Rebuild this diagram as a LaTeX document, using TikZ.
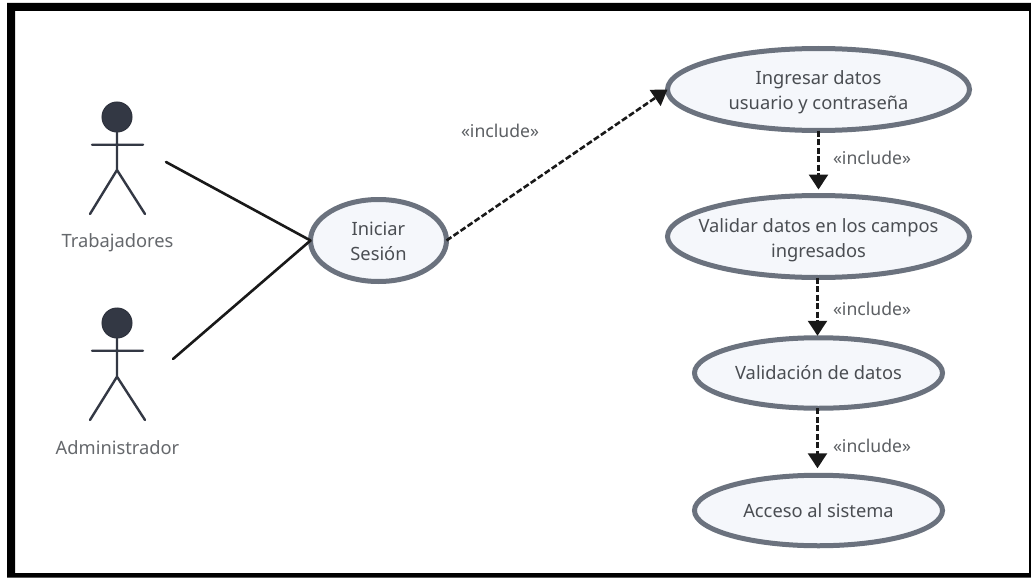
\documentclass[tikz,border=0pt]{standalone}
\usepackage{fontspec}
\setmainfont{Noto Sans}
\usetikzlibrary{shapes.geometric,arrows.meta}
\definecolor{ucfill}{HTML}{F5F7FB}
\definecolor{ucline}{HTML}{6B727E}
\definecolor{actorc}{HTML}{333844}
\definecolor{txtc}{HTML}{4A4D52}
\tikzset{
  usecase/.style={ellipse,draw=ucline,fill=ucfill,line width=5pt,inner sep=0pt,outer sep=0pt,align=center,text=txtc,font=\fontsize{18.3}{25}\selectfont},
  actorlabel/.style={text=txtc!85,inner sep=0pt,font=\fontsize{18.3}{22}\selectfont},
  inclabel/.style={text=txtc!90,inner sep=0pt,font=\fontsize{17.6}{22}\selectfont},
  actorline/.style={draw=actorc,line width=2.4pt,line cap=round},
  head/.style={circle,draw=actorc!90!black,fill=actorc,line width=1pt,minimum size=30pt,inner sep=0pt,outer sep=0pt},
  assoc/.style={draw=black!90,line width=2.6pt,line cap=round},
  incl/.style={draw=black!90,line width=2.6pt,dash pattern=on 6pt off 2.5pt,-{Triangle[width=19pt,length=15pt,sep=0pt]}}
}
\begin{document}
\begin{tikzpicture}[x=1pt,y=-1pt]
\useasboundingbox (0,0) rectangle (1031,578);
\fill[white] (0,0) rectangle (1031,578);
\fill[black,even odd rule] (7,3) rectangle (1031,577.5) (15,11) rectangle (1029,573);
% actors
\node[head] (h1) at (117,117) {};
\coordinate (n1) at (117,170);
\coordinate (al1) at (92,144.7);
\coordinate (ar1) at (143,144.7);
\coordinate (ll1) at (90,214);
\coordinate (lr1) at (145,214);
\draw[actorline] (h1) -- (n1) (al1) -- (ar1) (ll1) -- (n1) -- (lr1);
\node[actorlabel] (t1) at (117.5,242.5) {Trabajadores};
\node[head] (h2) at (117,323) {};
\coordinate (n2) at (117,376.7);
\coordinate (al2) at (92,350.7);
\coordinate (ar2) at (143,350.7);
\coordinate (ll2) at (90,420);
\coordinate (lr2) at (145,420);
\draw[actorline] (h2) -- (n2) (al2) -- (ar2) (ll2) -- (n2) -- (lr2);
\node[actorlabel] (t2) at (117.5,448) {Administrador};
% use cases
\node[usecase,minimum width=136pt,minimum height=82pt] (ini) at (378.5,240.5) {\rule{0pt}{15.7pt}Iniciar\\Sesión};
\node[usecase,minimum width=302pt,minimum height=82pt] (ing) at (818.5,89.5) {\rule{0pt}{20pt}Ingresar datos\\\makebox[100pt]{usuario y contraseña}};
\node[usecase,minimum width=302pt,minimum height=82pt] (val) at (818.5,236.5) {\rule{0pt}{22pt}\makebox[100pt]{Validar datos en los campos}\\ingresados};
\node[usecase,minimum width=248pt,minimum height=70.5pt] (vad) at (818.5,373) {Validación de datos};
\node[usecase,minimum width=248pt,minimum height=70.5pt] (acc) at (818.5,510.5) {Acceso al sistema};
% associations
\coordinate (c1) at (166,162);
\coordinate (c2) at (173,359);
\draw[assoc] (c1) -- (ini.west);
\draw[assoc] (c2) -- (ini.west);
% includes
\draw[incl] (ini.east) -- (ing.west);
\draw[incl,shorten >=6pt] (ing.south) -- (val.north);
\draw[incl,shorten >=2pt] ([xshift=-1pt]val.south) -- ([xshift=-1pt]vad.north);
\draw[incl,shorten >=7pt] ([xshift=-1pt]vad.south) -- ([xshift=-1pt]acc.north);
\node[inclabel] (l1) at (500,131) {«include»};
\node[inclabel] (l2) at (872,158) {«include»};
\node[inclabel] (l3) at (872,309) {«include»};
\node[inclabel] (l4) at (872,446) {«include»};
\end{tikzpicture}
\end{document}
